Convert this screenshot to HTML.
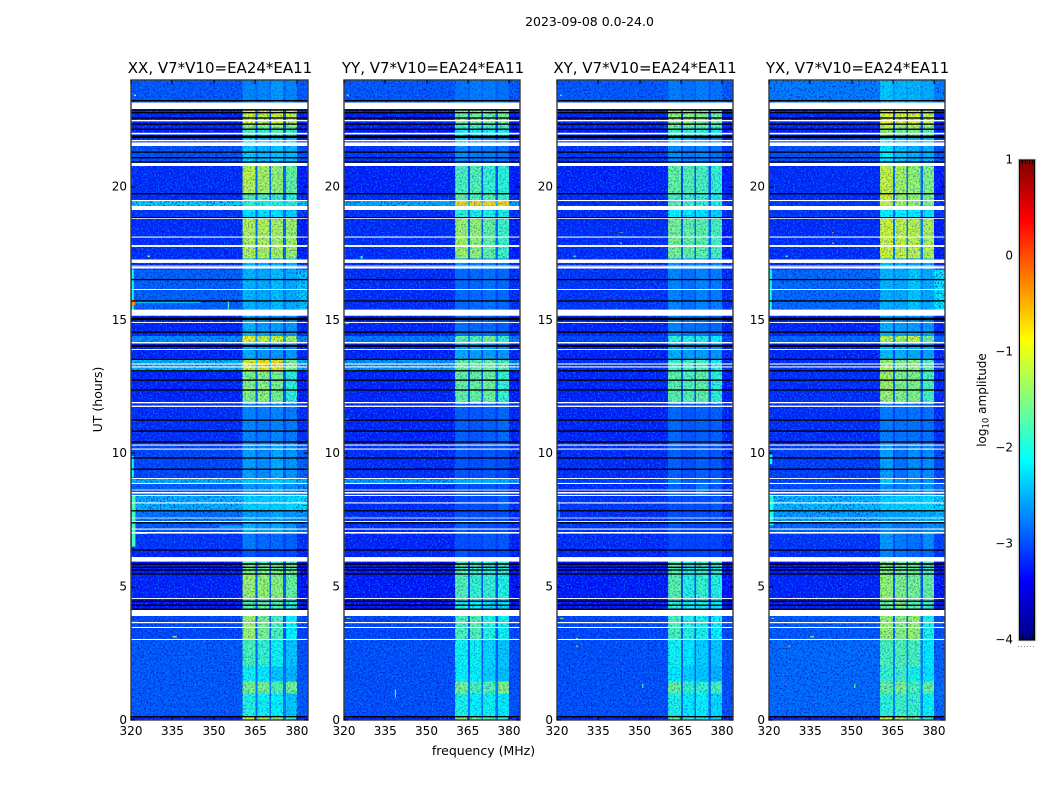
<!DOCTYPE html>
<html lang="en">
<head>
<meta charset="utf-8">
<title>2023-09-08 0.0-24.0</title>
<style>
html,body{margin:0;padding:0;background:#fff;}
#chart{display:block;width:1050px;height:800px;font-family:"DejaVu Sans","Liberation Sans",sans-serif;fill:#000;}
</style>
</head>
<body>
<svg id="chart" xmlns="http://www.w3.org/2000/svg" width="1050" height="800" viewBox="0 0 1050 800">
  <defs>
    <filter id="speckleLight" x="0" y="0" width="1" height="1" color-interpolation-filters="sRGB">
      <feTurbulence type="fractalNoise" baseFrequency="0.62" numOctaves="1" seed="4"/>
      <feColorMatrix type="matrix" values="0 0 0 0 0.02  0 0 0 0 0.55  0 0 0 0 1  5 0 0 0 -2.4"/>
    </filter>
    <filter id="speckleDark" x="0" y="0" width="1" height="1" color-interpolation-filters="sRGB">
      <feTurbulence type="fractalNoise" baseFrequency="0.58" numOctaves="1" seed="11"/>
      <feColorMatrix type="matrix" values="0 0 0 0 0  0 0 0 0 0.08  0 0 0 0 0.72  0 5 0 0 -2.5"/>
    </filter>
    <linearGradient id="jetGradient" x1="0" y1="0" x2="0" y2="1"></linearGradient>
  </defs>
  <rect x="0" y="0" width="1050" height="800" fill="#fff"/>
  <text x="589.5" y="26" font-size="12.5" text-anchor="middle">2023-09-08 0.0-24.0</text>
  <text x="220" y="73" font-size="15" text-anchor="middle">XX, V7*V10=EA24*EA11</text>
  <text x="433" y="73" font-size="15" text-anchor="middle">YY, V7*V10=EA24*EA11</text>
  <text x="645" y="73" font-size="15" text-anchor="middle">XY, V7*V10=EA24*EA11</text>
  <text x="857.5" y="73" font-size="15" text-anchor="middle">YX, V7*V10=EA24*EA11</text>
  <text x="483.5" y="755" font-size="12.5" text-anchor="middle">frequency (MHz)</text>
  <text transform="translate(102 399.5) rotate(-90)" font-size="12.5" text-anchor="middle">UT (hours)</text>
  <text transform="translate(986 400) rotate(-90)" font-size="12" text-anchor="middle">log<tspan font-size="8.5" dy="2.5">10</tspan><tspan dy="-2.5"> amplitude</tspan></text>
  <g id="plots"></g>
  <g id="colorbar"></g>
</svg>
<script>
// Axis ticks
const freqTicks = [320, 335, 350, 365, 380];
const hourTicks = [0, 5, 10, 15, 20];
const colorbarTicks = [1, 0, -1, -2, -3, -4];

// Time segments (UT hours, top to bottom) shared by the four panels
const segmentEdges = [24,22.9,22.25,21.9,21.52,20.85,19.75,19.5,19.28,18.83,17.3,16.9,15.3,14.4,14.16,13.55,13.1,11.85,10.33,9.08,8.87,8.42,7.85,7.42,7,6.38,6,5.8,5.45,4.55,4,3,2,1.45,1,0.12,0];

// Frequency blocks (MHz); each block reads one level out of a row
const freqEdges = [320,360.4,365,365.8,370,370.6,375,376,380,384];
const freqBlockLevel = [0,1,5,2,5,3,5,4,6];

// log10 amplitude per time segment: [background, sub1, sub2, sub3, sub4, sub-band gap, above 380 MHz]
const levelsXX = [
[-2.95,-2.7,-2.7,-2.6,-2.7,-2.85,-2.95],[-3.25,-1.05,-1.15,-1.05,-1.15,-3,-3.25],[-3.25,-1.7,-1.8,-1.7,-1.8,-3,-3.3],[-3.2,-2.2,-2.3,-2.3,-2.3,-3,-3.25],
[-3.0,-2.3,-2.4,-2.35,-2.4,-2.8,-3.0],[-3.2,-1.15,-1.25,-1.35,-1.6,-2.85,-3.3],[-3.2,-1.7,-1.75,-1.85,-1.9,-2.95,-3.25],[-2.3,-1.9,-1.95,-1.95,-1.95,-2.25,-2.35],
[-3.15,-2.2,-2.2,-2.2,-2.3,-2.9,-3.15],[-3.2,-1.2,-1.2,-1.25,-1.3,-2.85,-3.3],[-3.2,-2.4,-2.5,-2.5,-2.5,-3,-3.2],[-2.9,-2.45,-2.5,-2.4,-2.5,-2.75,-2.35],
[-3.25,-2.45,-2.55,-2.55,-2.6,-3,-3.25],[-2.65,-0.95,-1.1,-1.1,-1.3,-2.5,-2.65],[-3.25,-2.5,-2.6,-2.6,-2.6,-3.05,-3.25],[-2.45,-1,-0.75,-0.75,-1.5,-2.3,-2.5],
[-3.25,-1.45,-1.4,-1.5,-1.9,-2.95,-3.3],[-3.2,-2.7,-2.75,-2.7,-2.75,-3.05,-3.2],[-3.05,-2.55,-2.65,-2.5,-2.6,-2.95,-2.9],[-2.45,-2.3,-2.35,-2.3,-2.35,-2.45,-2.45],
[-2.9,-2.6,-2.6,-2.5,-2.6,-2.8,-2.65],[-2.45,-2.3,-2.3,-2.3,-2.25,-2.4,-2.2],[-2.8,-2.55,-2.6,-2.5,-2.6,-2.7,-2.6],[-2.95,-2.45,-2.55,-2.5,-2.6,-2.75,-2.85],
[-3.15,-2.75,-2.85,-2.85,-2.9,-3.05,-3.2],[-3.25,-2.95,-3.05,-3.05,-3.05,-3.15,-3.25],[-3.35,-1.7,-1.8,-1.8,-1.8,-3.05,-3.4],[-3.3,-1.45,-1.45,-1.5,-1.5,-3,-3.4],
[-3.25,-1.3,-1.35,-1.4,-1.6,-2.9,-3.35],[-3.35,-1.7,-1.6,-1.7,-1.9,-3,-3.4],[-3.05,-1.3,-1.5,-1.75,-2.1,-2.95,-3.1],[-2.95,-1.75,-1.85,-2.05,-2.35,-2.85,-3],
[-2.95,-2.05,-2.15,-2.35,-2.45,-2.85,-3],[-2.95,-1.5,-1.5,-1.7,-1.55,-2.75,-2.95],[-2.95,-1.95,-2.05,-2.1,-2.35,-2.8,-2.95],[-3.3,-1.05,-1.15,-1.35,-1.9,-2.8,-3.3]
];
const levelsYY = [
[-2.95,-2.8,-2.75,-2.75,-2.8,-2.9,-2.95],[-3.3,-1.55,-1.5,-1.6,-1.5,-3.05,-3.3],[-3.3,-2,-2,-2,-2,-3.05,-3.3],[-3.25,-2.3,-2.5,-2.6,-2.6,-3.05,-3.25],
[-3.15,-2.65,-2.75,-2.75,-2.8,-3.05,-3.15],[-3.25,-1.75,-1.7,-1.85,-1.9,-3,-3.3],[-3.2,-1.6,-1.7,-1.7,-1.8,-2.95,-3.25],[-2.5,-0.7,-0.7,-0.75,-0.7,-2.3,-2.55],
[-3.2,-1.9,-2,-2,-2,-2.9,-3.2],[-3.2,-1.3,-1.35,-1.6,-1.8,-2.85,-3.3],[-3.2,-2.6,-2.7,-2.7,-2.7,-3.05,-3.2],[-3.2,-2.85,-2.85,-2.8,-2.85,-3.05,-3.2],
[-3.25,-2.8,-2.85,-2.85,-2.9,-3.1,-3.25],[-2.75,-1.6,-1.7,-1.5,-1.8,-2.6,-2.75],[-3.25,-2.5,-2.55,-2.55,-2.6,-3.05,-3.25],[-2.6,-1.6,-1.65,-1.6,-1.7,-2.45,-2.65],
[-3.25,-1.6,-1.6,-1.55,-1.85,-2.95,-3.3],[-3.25,-2.9,-2.95,-2.9,-2.85,-3.1,-3.25],[-3.2,-2.95,-3,-2.95,-3,-3.1,-3.2],[-2.55,-2.45,-2.45,-2.45,-2.5,-2.55,-2.55],
[-3.2,-2.95,-3,-2.95,-2.95,-3.1,-3.2],[-3.2,-3,-3,-3,-2.9,-3.1,-3.2],[-3.2,-3,-3,-3,-3,-3.1,-3.2],[-3.2,-2.9,-3,-3,-3,-3.1,-3.2],
[-3.25,-3,-3,-2.95,-2.95,-3.1,-3.25],[-3.25,-2.95,-3.05,-3.05,-3.05,-3.15,-3.25],[-3.35,-1.75,-1.9,-1.9,-1.9,-3.05,-3.4],[-3.3,-1.7,-1.8,-1.9,-1.9,-3.05,-3.4],
[-3.3,-1.7,-1.85,-1.85,-1.95,-3,-3.35],[-3.35,-2,-2.1,-2.2,-2.2,-3.05,-3.4],[-3.05,-1.75,-1.7,-1.95,-2.05,-2.95,-3.05],[-3,-2.05,-2.05,-2.25,-2.35,-2.9,-3],
[-3,-2.1,-2.1,-2.3,-2.4,-2.9,-3],[-3,-1.55,-1.75,-1.7,-1.45,-2.75,-3],[-3,-2,-2.1,-2.05,-2.15,-2.8,-3],[-3.3,-1.4,-1.6,-1.7,-1.8,-2.8,-3.3]
];
const levelsXY = [
[-2.95,-2.75,-2.8,-2.75,-2.8,-2.9,-2.95],[-3.25,-1.35,-1.35,-1.45,-1.55,-3.05,-3.3],[-3.25,-1.75,-1.85,-1.9,-2,-3.05,-3.3],[-3.25,-2.3,-2.5,-2.6,-2.6,-3.05,-3.25],
[-3.15,-2.65,-2.75,-2.7,-2.8,-3.05,-3.15],[-3.25,-1.6,-1.7,-1.75,-1.85,-3,-3.3],[-3.2,-1.75,-1.8,-1.9,-2,-2.95,-3.25],[-3.2,-1.7,-1.8,-1.85,-2.05,-2.9,-3.2],
[-3.2,-2.1,-2.15,-2.2,-2.3,-2.95,-3.2],[-3.2,-1.5,-1.6,-1.65,-1.75,-2.85,-3.3],[-3.2,-2.6,-2.7,-2.7,-2.7,-3.05,-3.2],[-3.15,-2.7,-2.8,-2.7,-2.75,-3,-3.2],
[-3.25,-2.7,-2.8,-2.8,-2.85,-3.05,-3.25],[-3.05,-1.9,-1.95,-1.95,-2.1,-2.9,-3.05],[-3.25,-2.5,-2.55,-2.55,-2.6,-3.05,-3.25],[-3.2,-1.8,-1.8,-1.75,-2,-2.95,-3.2],
[-3.25,-1.65,-1.7,-1.6,-1.9,-2.95,-3.3],[-3.25,-2.85,-2.95,-2.9,-2.9,-3.1,-3.25],[-3.2,-2.9,-3,-2.9,-2.95,-3.1,-3.2],[-3.1,-2.7,-2.9,-2.9,-2.8,-3.05,-3.1],
[-3.2,-2.9,-3,-2.75,-2.95,-3.1,-3.2],[-3.15,-3,-3,-3,-2.95,-3.1,-3.15],[-3.2,-3,-3,-3,-3,-3.1,-3.2],[-3.15,-2.95,-3.05,-3.05,-3.05,-3.1,-3.15],
[-3.2,-3.05,-3.05,-3.05,-3.05,-3.1,-3.2],[-3.25,-3.05,-3.05,-3.05,-3.05,-3.15,-3.25],[-3.35,-1.75,-2,-1.85,-1.85,-3.05,-3.4],[-3.3,-1.7,-2,-1.85,-1.95,-3.05,-3.4],
[-3.3,-1.65,-1.95,-1.85,-1.95,-3,-3.35],[-3.35,-1.9,-2.05,-2,-2.15,-3.05,-3.4],[-3.05,-1.75,-1.95,-2,-2.1,-2.95,-3.05],[-3,-2.05,-2.15,-2.3,-2.35,-2.9,-3],
[-3,-2.15,-2.3,-2.35,-2.45,-2.9,-3],[-3,-1.6,-1.85,-1.85,-1.75,-2.8,-3],[-3,-2,-2.15,-2.1,-2.25,-2.85,-3],[-3.3,-1.6,-1.9,-2,-2.2,-2.85,-3.3]
];
const levelsYX = [
[-2.75,-2.35,-2.45,-2.45,-2.5,-2.6,-2.75],[-3.25,-0.95,-1,-0.95,-1.1,-3,-3.3],[-3.25,-1.3,-1.5,-1.4,-1.6,-3,-3.3],[-3.15,-2.1,-2.3,-2.3,-2.3,-2.95,-3.15],
[-3,-2.15,-2.35,-2.45,-2.45,-2.8,-3],[-3.2,-1.1,-1.25,-1.35,-1.45,-2.8,-3.3],[-3.2,-1.05,-1.3,-1.35,-1.5,-2.85,-3.25],[-3.15,-1.1,-1.3,-1.35,-1.45,-2.8,-3.15],
[-3.15,-2.1,-2.1,-2.1,-2.2,-2.85,-3.15],[-3.2,-1.05,-1.1,-1.15,-1.2,-2.75,-3.3],[-3.2,-2.4,-2.5,-2.5,-2.5,-3,-3.2],[-2.85,-2.45,-2.5,-2.35,-2.5,-2.65,-2.15],
[-3.25,-2.45,-2.55,-2.55,-2.6,-3,-3.25],[-2.85,-1.2,-1.25,-1.1,-1.5,-2.6,-2.85],[-3.25,-2.4,-2.45,-2.5,-2.55,-3.05,-3.25],[-3.2,-1.3,-1.45,-1.4,-1.7,-2.75,-3.2],
[-3.2,-1.3,-1.45,-1.45,-1.75,-2.85,-3.25],[-3.2,-2.75,-2.8,-2.8,-2.8,-3.05,-3.2],[-3.1,-2.55,-2.8,-2.65,-2.65,-3,-3.05],[-3.1,-2.3,-2.6,-2.65,-2.6,-3,-3.1],
[-3,-2.65,-2.75,-2.6,-2.6,-2.9,-2.85],[-2.4,-2.3,-2.3,-2.3,-2.25,-2.35,-2.25],[-2.55,-2.55,-2.55,-2.5,-2.5,-2.55,-2.4],[-2.85,-2.65,-2.75,-2.75,-2.65,-2.8,-2.65],
[-3.15,-2.6,-2.75,-2.8,-2.65,-3,-3.1],[-3.2,-2.7,-2.8,-2.85,-2.85,-3.05,-3.2],[-3.35,-1.5,-1.6,-1.6,-1.75,-3.05,-3.4],[-3.3,-1.4,-1.5,-1.55,-1.75,-3,-3.4],
[-3.25,-1.35,-1.45,-1.5,-1.6,-2.9,-3.35],[-3.3,-1.55,-1.45,-1.65,-1.8,-2.95,-3.35],[-2.95,-1.35,-1.4,-1.35,-2,-2.85,-3],[-2.85,-1.75,-1.7,-1.75,-2.15,-2.7,-2.9],
[-2.85,-1.85,-1.8,-2,-2.2,-2.75,-2.9],[-2.85,-1.6,-1.5,-1.75,-1.6,-2.6,-2.85],[-2.85,-1.9,-1.8,-1.85,-2.1,-2.7,-2.85],[-3.3,-1.1,-1.2,-1.6,-1.9,-2.7,-3.3]
];

// Interference features: [hour high, hour low, freq low, freq high, level]
const spotsXX = [[16.9,15.3,320.3,321,-2.1],[15.75,15.55,320.3,321.6,-0.3],[15.68,15.64,322,345,-2.4],[15.75,15.35,355,355.4,-1.7],[8.4,6.5,320.3,321.6,-1.8],[7.3,7.2,352,360,-2.6],[9.9,9.1,320.3,321,-2.1],[17.42,17.36,326,326.8,-1.2],[3.14,3.1,335,336.6,-1],[23.45,23.4,321,321.8,-1.4],[7.04,6.98,322,326,-1.2]];
const spotsYY = [[23.45,23.4,321,321.8,-1.9],[14.9,14.86,320.5,321.8,-1.9],[11.3,11.24,320.5,321.8,-1.9],[3.83,3.8,321,322.4,-1.2],[1.15,0.85,338.5,338.9,-1.8],[17.4,17.3,326,326.8,-2]];
const spotsXY = [[23.45,23.4,321,321.8,-2],[18.3,18.26,343,343.6,-0.3],[17.9,17.86,343,343.6,-0.9],[17.42,17.36,326,326.8,-1.8],[8.2,7.6,320.6,321,-2.4],[3.83,3.8,321,322.4,-1.2],[2.8,2.74,327,327.6,-0.4],[3.08,3.02,327,327.6,-1.3],[1.35,1.2,351,351.4,-1.8]];
const spotsYX = [[16.9,15.4,320.3,321,-2],[18.3,18.26,343,343.6,-0.3],[17.9,17.86,343,343.6,-0.9],[17.42,17.36,326,326.8,-1.6],[8.4,7.3,320.3,321.6,-2],[9.95,9.6,320.3,321.2,-2.1],[3.83,3.8,321,321.8,-0.8],[3.14,3.1,335,336.4,-1.1],[2.8,2.74,327,327.6,-0.4],[1.35,1.2,351,351.4,-1.4]];

// Flagged integrations: white gaps [hour high, hour low], black rows [hour high, hour low]
const whiteRows = [[23.156,22.913],[22.5,22.45],[22.02,21.96],[21.75,21.7],[21.66,21.525],[20.89,20.775],[19.5,19.46],[19.275,19.125],[18.825,18.79],[18.13,18.09],[17.81,17.74],[17.27,17.14],[17.04,17],[16.99,16.93],[16.16,16.125],[15.39,15.16],[14.925,14.89],[14.175,14.12],[13.91,13.875],[13.37,13.33],[13.26,13.22],[11.925,11.875],[11.79,11.74],[10.33,10.29],[10.18,10.14],[9.075,9.04],[8.89,8.85],[8.64,8.61],[8.55,8.49],[8.44,8.4],[8.16,8.12],[7.59,7.56],[7.46,7.425],[7.18,7.14],[7.05,6.99],[6.11,5.94],[4.575,4.54],[4.125,3.9],[3.675,3.63],[3.49,3.45],[3.04,3]];
const blackRows = [[23.25,23.2],[22.9,22.85],[22.8,22.75],[22.6,22.55],[22.37,22.32],[22.18,22.13],[21.92,21.82],[21.32,21.27],[21.11,21.06],[20.95,20.9],[19.76,19.71],[18.86,18.82],[16.54,16.49],[15.74,15.69],[15.09,14.99],[14.57,14.52],[14.07,13.99],[13.55,13.5],[13.12,13.07],[12.77,12.72],[12.4,12.35],[11.27,11.22],[10.86,10.81],[10.45,10.4],[9.85,9.8],[9.43,9.38],[7.87,7.82],[7.42,7.37],[6.4,6.35],[5.88,5.82],[5.75,5.7],[5.65,5.6],[5.5,5.45],[4.48,4.43],[4.33,4.28],[4.18,4.13],[0.15,0.1]];

// Axis ranges
const freqMin = 320, freqMax = 384, hourMin = 0, hourMax = 24, cbMin = -4, cbMax = 1;

const panels = [
  {key: 'xx', left: 131, right: 308, levels: levelsXX, spots: spotsXX},
  {key: 'yy', left: 344, right: 520, levels: levelsYY, spots: spotsYY},
  {key: 'xy', left: 557, right: 733, levels: levelsXY, spots: spotsXY},
  {key: 'yx', left: 769, right: 945, levels: levelsYX, spots: spotsYX}
];
const plotTop = 80, plotBottom = 720;
const NS = 'http://www.w3.org/2000/svg';

function xScale(p, f) { return p.left + (f - freqMin) / (freqMax - freqMin) * (p.right - p.left); }
function yScale(h) { return plotBottom - (h - hourMin) / (hourMax - hourMin) * (plotBottom - plotTop); }
function cbScale(v) { return 640 - (v - cbMin) / (cbMax - cbMin) * 480; }
function clamp(v) { return Math.max(0, Math.min(1, v)); }
function jet(v) {
  const t = (v - cbMin) / (cbMax - cbMin);
  const r = clamp(Math.min(4 * t - 1.5, -4 * t + 4.5));
  const g = clamp(Math.min(4 * t - 0.5, -4 * t + 3.5));
  const b = clamp(Math.min(4 * t + 0.5, -4 * t + 2.5));
  return 'rgb(' + Math.round(r * 255) + ',' + Math.round(g * 255) + ',' + Math.round(b * 255) + ')';
}
function make(tag, attrs, parent) {
  const el = document.createElementNS(NS, tag);
  Object.keys(attrs).forEach(function (k) { el.setAttribute(k, attrs[k]); });
  parent.appendChild(el);
  return el;
}

const plots = document.getElementById('plots');
panels.forEach(function (p) {
  const g = make('g', {}, plots);
  
  

  // heatmap cells
  const cells = make('g', {'shape-rendering': 'crispEdges'}, g);
  
  
  p.levels.forEach(function (row, i) {
    freqBlockLevel.forEach(function (lv, j) {
      const x0 = xScale(p, freqEdges[j]), x1 = xScale(p, freqEdges[j + 1]);
      const y0 = yScale(segmentEdges[i]), y1 = yScale(segmentEdges[i + 1]);
      const c = make('rect', {x: x0, y: y0, width: x1 - x0, height: y1 - y0, fill: jet(row[lv])}, cells);
      
      
    });
  });

  // noise texture: stronger outside the sub-bands, fainter over them
  const w = p.right - p.left, h = plotBottom - plotTop;
  const speckleAreas = [[freqMin, 360.4, 0.65], [360.4, 380, 0.35], [380, freqMax, 0.65]];
  speckleAreas.forEach(function (a) {
    const ax = xScale(p, a[0]), aw = xScale(p, a[1]) - ax;
    const nl = make('rect', {x: ax, y: plotTop, width: aw, height: h, filter: 'url(#speckleLight)', opacity: a[2]}, g);
    
    
    const nd = make('rect', {x: ax, y: plotTop, width: aw, height: h, filter: 'url(#speckleDark)', opacity: a[2]}, g);
    
    
  });

  // interference spots
  p.spots.forEach(function (s) {
    const x0 = xScale(p, s[2]), x1 = xScale(p, s[3]);
    const y0 = yScale(s[0]), y1 = yScale(s[1]);
    const r = make('rect', {x: x0, y: y0, width: x1 - x0, height: y1 - y0, fill: jet(s[4])}, g);
    
    
  });

  // flagged rows
  whiteRows.forEach(function (s) {
    const r = make('rect', {x: p.left, y: yScale(s[0]), width: w, height: yScale(s[1]) - yScale(s[0]), fill: '#fff'}, g);
    
    
  });
  blackRows.forEach(function (s) {
    const r = make('rect', {x: p.left, y: yScale(s[0]), width: w, height: yScale(s[1]) - yScale(s[0]), fill: '#000'}, g);
    
    
  });

  // frame
  const frame = make('rect', {x: p.left, y: plotTop, width: w, height: h, fill: 'none', stroke: '#3a3a3a', 'stroke-width': 1.4}, g);
  
  

  // x ticks
  freqTicks.forEach(function (f) {
    const x = Math.round(xScale(p, f));
    const b = make('line', {x1: x, x2: x, y1: plotBottom, y2: plotBottom - 4, stroke: '#000'}, g);
    
    
    const t = make('line', {x1: x, x2: x, y1: plotTop, y2: plotTop + 4, stroke: '#000'}, g);
    
    
    const lab = make('text', {x: xScale(p, f), y: 735, 'font-size': 12, 'text-anchor': 'middle'}, g);
    
    
    lab.textContent = String(f);
  });

  // y ticks
  hourTicks.forEach(function (hr) {
    const y = Math.round(yScale(hr));
    const l = make('line', {x1: p.left, x2: p.left + 4, y1: y, y2: y, stroke: '#000'}, g);
    
    
    const r = make('line', {x1: p.right, x2: p.right - 4, y1: y, y2: y, stroke: '#000'}, g);
    
    
    const lab = make('text', {x: p.left - 4, y: yScale(hr) + 3.8, 'font-size': 12, 'text-anchor': 'end'}, g);
    
    
    lab.textContent = String(hr);
  });
});

// colorbar
const cb = document.getElementById('colorbar');
const grad = document.getElementById('jetGradient');
for (let k = 0; k <= 64; k++) {
  const v = cbMax - (cbMax - cbMin) * k / 64;
  make('stop', {offset: (k / 64), 'stop-color': jet(v)}, grad);
}
const cbOuter = make('rect', {x: 1019, y: 160, width: 16, height: 480, fill: 'none', stroke: '#c4c4c4', 'stroke-width': 2.5}, cb);


const cbBar = make('rect', {x: 1019.5, y: 160, width: 15, height: 480, fill: 'url(#jetGradient)', stroke: '#000', 'stroke-width': 1}, cb);


for (let k = 1; k <= 4; k++) {
  const x = Math.round(1019 + k * 16 / 5) + 0.5;
  const top = make('line', {x1: x, x2: x, y1: 160, y2: 164, stroke: '#000'}, cb);
  
  
  const bot = make('line', {x1: x, x2: x, y1: 640, y2: 636, stroke: '#000'}, cb);
  
  
}
colorbarTicks.forEach(function (v) {
  const lab = make('text', {x: 1013, y: cbScale(v) + 3.5, 'font-size': 12, 'text-anchor': 'end'}, cb);
  
  
  lab.textContent = String(v).replace('-', '\u2212');
});
const cbDots = make('line', {x1: 1018, x2: 1035, y1: 646.5, y2: 646.5, stroke: '#888', 'stroke-dasharray': '1 2'}, cb);


</script>
</body>
</html>
